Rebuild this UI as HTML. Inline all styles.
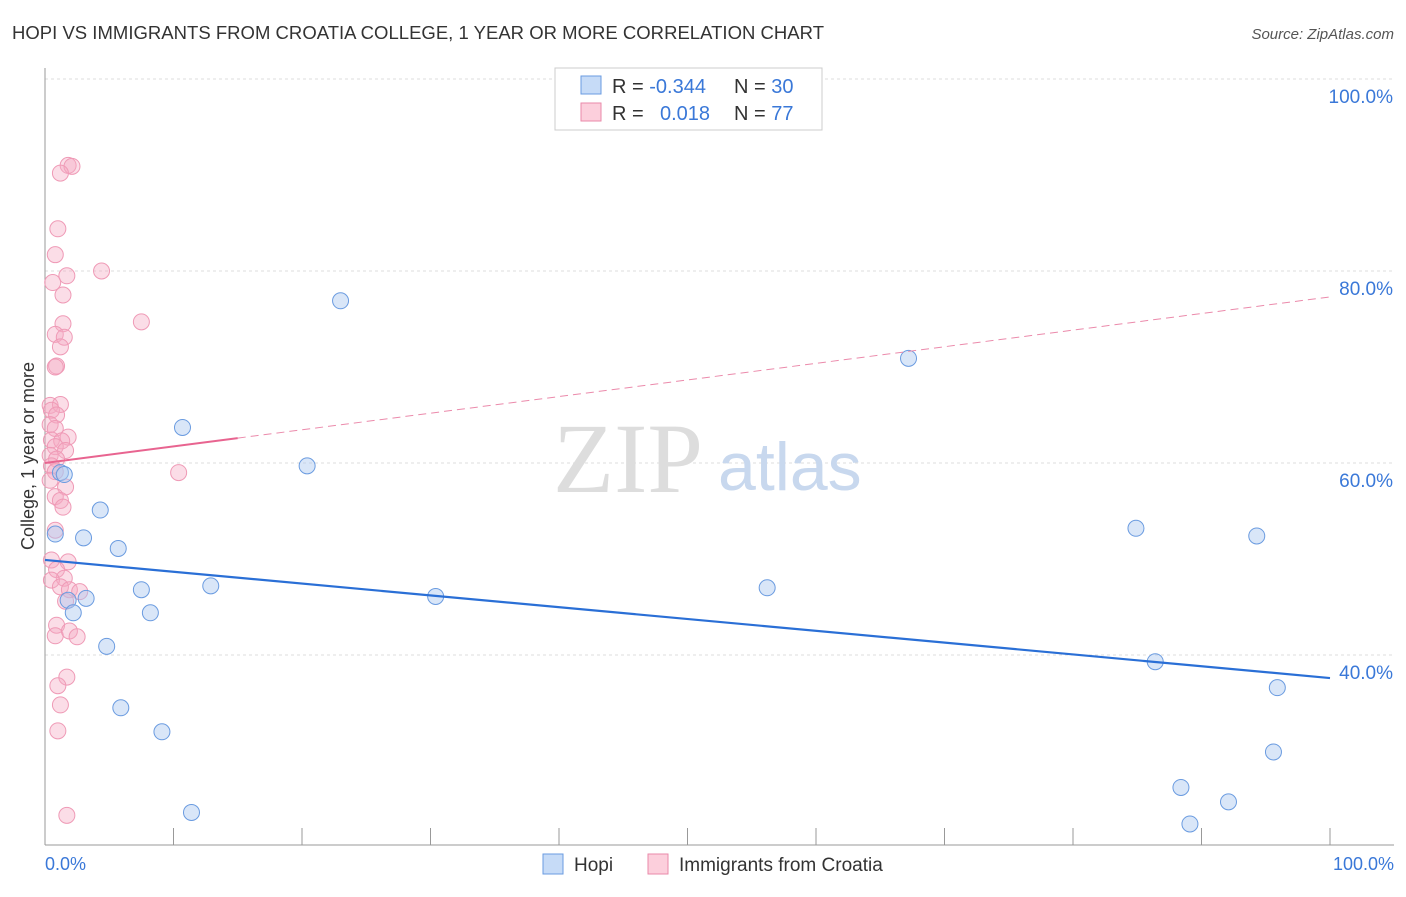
<!DOCTYPE html>
<html><head><meta charset="utf-8"><style>
body{margin:0;background:#fff;font-family:"Liberation Sans",sans-serif;}
svg text{font-family:"Liberation Sans",sans-serif;}
</style></head><body>
<svg width="1406" height="892" id="chart">
<text x="12" y="39" font-size="18.5" fill="#333" textLength="812">HOPI VS IMMIGRANTS FROM CROATIA COLLEGE, 1 YEAR OR MORE CORRELATION CHART</text>
<text x="1394" y="39" font-size="15" fill="#555" font-style="italic" text-anchor="end">Source: ZipAtlas.com</text>
<g id="grid"></g>
<text x="553" y="492" font-size="100" fill="#ddd" style="font-family:'Liberation Serif',serif">ZIP</text>
<text x="718" y="490" font-size="68" fill="#c8d8ee">atlas</text>
<line x1="45" y1="68" x2="45" y2="845" stroke="#999"/>
<line x1="45" y1="845" x2="1394" y2="845" stroke="#999"/>
<g id="ticks"></g>
<g id="ylabels"></g>
<text x="34" y="456" font-size="18" fill="#333" transform="rotate(-90 34 456)" text-anchor="middle">College, 1 year or more</text>
<text x="45" y="870" font-size="18" fill="#3a78d8">0.0%</text>
<text x="1394" y="870" font-size="18" fill="#3a78d8" text-anchor="end">100.0%</text>
<g id="pts"></g>
<g id="trends"></g>
<g>
<rect x="555" y="68" width="267" height="62" fill="#fff" stroke="#ccc"/>
<rect x="581" y="76" width="20" height="18" fill="#c6dbf7" stroke="#6a9be0"/>
<rect x="581" y="103" width="20" height="18" fill="#fccfdc" stroke="#ea8aaa"/>
<text x="612" y="93" font-size="20" fill="#333">R = <tspan fill="#3a78d8">-0.344</tspan><tspan x="734">N = </tspan><tspan fill="#3a78d8">30</tspan></text>
<text x="612" y="120" font-size="20" fill="#333">R = <tspan x="660" fill="#3a78d8">0.018</tspan><tspan x="734">N = </tspan><tspan fill="#3a78d8">77</tspan></text>
</g>
<g>
<rect x="543" y="854" width="20" height="20" fill="#c6dbf7" stroke="#6a9be0"/>
<text x="574" y="871" font-size="19" fill="#333">Hopi</text>
<rect x="648" y="854" width="20" height="20" fill="#fccfdc" stroke="#ea8aaa"/>
<text x="679" y="871" font-size="19" fill="#333">Immigrants from Croatia</text>
</g>
</svg>
<script>
const yTicks=[40,60,80,100];
const yTickLabels=["40.0%","60.0%","80.0%","100.0%"];
const hopiX=[23.0,10.7,20.4,1.2,4.3,0.8,3.0,5.7,7.5,12.9,1.8,3.2,2.2,8.2,30.4,56.2,4.8,5.9,9.1,11.4,67.2,84.9,94.3,86.4,95.9,95.6,88.4,92.1,89.1,1.5];
const hopiY=[76.9,63.7,59.7,59.0,55.1,52.6,52.2,51.1,46.8,47.2,45.7,45.9,44.4,44.4,46.1,47.0,40.9,34.5,32.0,23.6,70.9,53.2,52.4,39.3,36.6,29.9,26.2,24.7,22.4,58.8];
const croX=[1.8,2.1,1.2,1.0,0.8,4.4,1.7,0.6,1.4,7.5,1.4,0.8,1.5,1.2,0.9,0.8,0.4,1.2,0.5,0.9,0.4,0.8,1.8,0.5,1.3,0.8,1.6,0.4,0.9,0.5,10.4,0.8,0.4,1.6,0.8,1.2,1.4,0.8,0.5,1.8,0.9,1.5,0.5,1.2,1.9,2.7,1.6,0.9,0.8,1.9,2.5,1.7,1.0,1.2,1.0,1.7];
const croY=[91.0,90.9,90.2,84.4,81.7,80.0,79.5,78.8,77.5,74.7,74.5,73.4,73.1,72.1,70.1,70.0,66.0,66.1,65.5,65.0,64.0,63.6,62.7,62.4,62.3,61.7,61.3,60.8,60.4,59.7,59.0,59.1,58.2,57.5,56.5,56.1,55.4,53.0,49.9,49.7,48.9,48.0,47.8,47.1,46.8,46.6,45.6,43.1,42.0,42.5,41.9,37.7,36.8,34.8,32.1,23.3];
const hopiTrend=[49.9,37.6];
const croTrend=[60.0,77.3];
const xs=v=>45+v*12.85, ys=v=>79+(100-v)*9.6;
const NS="http://www.w3.org/2000/svg";
function mk(t,a,p){const e=document.createElementNS(NS,t);for(const k in a)e.setAttribute(k,a[k]);p.appendChild(e);return e;}
const grid=document.getElementById('grid'),yl=document.getElementById('ylabels');
yTicks.forEach((t,i)=>{
 const l=mk('line',{x1:45,x2:1394,y1:ys(t),y2:ys(t),stroke:'#ddd','stroke-dasharray':'3,3'},grid);
 
 
 const tx=mk('text',{x:1393,y:ys(t)+24,'font-size':19,fill:'#3a78d8','text-anchor':'end'},yl);
 tx.textContent=yTickLabels[i];
 
 
});
const tk=document.getElementById('ticks');
for(let i=0;i<=10;i++){const l=mk('line',{x1:xs(i*10),x2:xs(i*10),y1:828,y2:845,stroke:'#999'},tk);
 
 }
const pts=document.getElementById('pts');
croX.forEach((x,i)=>{const c=mk('circle',{cx:xs(x),cy:ys(croY[i]),r:8,fill:'rgba(246,170,195,0.4)',stroke:'#ef9ab6','stroke-width':1},pts);
 
 });
hopiX.forEach((x,i)=>{const c=mk('circle',{cx:xs(x),cy:ys(hopiY[i]),r:8,fill:'rgba(170,200,240,0.45)',stroke:'#6a9be0','stroke-width':1},pts);
 
 });
const tr=document.getElementById('trends');
const h=mk('line',{x1:xs(0),y1:ys(hopiTrend[0]),x2:xs(100),y2:ys(hopiTrend[1]),stroke:'#2a6fd6','stroke-width':2.2},tr);


const cy=v=>croTrend[0]+(croTrend[1]-croTrend[0])*v/100;
const c1=mk('line',{x1:xs(0),y1:ys(cy(0)),x2:xs(15),y2:ys(cy(15)),stroke:'#e86490','stroke-width':2},tr);


const c2=mk('line',{x1:xs(15),y1:ys(cy(15)),x2:xs(100),y2:ys(cy(100)),stroke:'#eb8aab','stroke-width':1,'stroke-dasharray':'8,5'},tr);


</script>
</body></html>
